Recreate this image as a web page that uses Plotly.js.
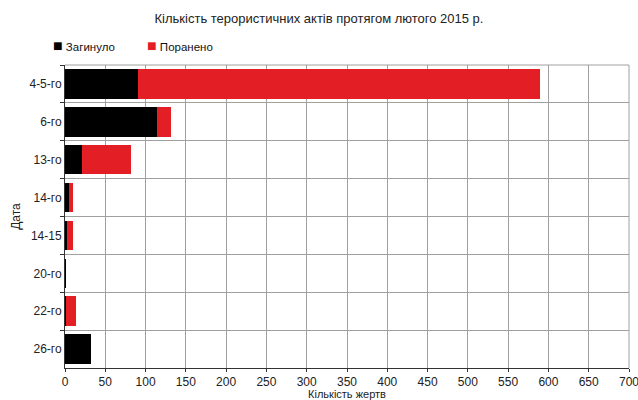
<!DOCTYPE html>
<html>
<head>
<meta charset="utf-8">
<script src="https://cdn.plot.ly/plotly-3.0.1.min.js"></script>
<style>html,body{margin:0;padding:0;background:#fff;}#chart{width:638px;height:400px;}</style>
</head>
<body>
<div id="chart"></div>
<script>
const categories = ['4-5-го', '6-го', '13-го', '14-го', '14-15', '20-го', '22-го', '26-го'];
const killed = [90, 114, 21, 5, 3, 1, 1, 32];
const wounded = [500, 18, 61, 5, 7, 0, 13, 0];
const seriesNames = ['Загинуло', 'Поранено'];
const seriesColors = ['#000000', '#e31e24'];
const xTicks = [0, 50, 100, 150, 200, 250, 300, 350, 400, 450, 500, 550, 600, 650, 700];

const fam = 'Liberation Sans, Arial, sans-serif';

const data = [
  {type: 'bar', orientation: 'h', name: seriesNames[0], y: categories, x: killed,
   marker: {color: seriesColors[0]}, hoverinfo: 'x+y'},
  {type: 'bar', orientation: 'h', name: seriesNames[1], y: categories, x: wounded,
   marker: {color: seriesColors[1]}, hoverinfo: 'x+y'}
];

const legendX = [-0.024, 0.141];
const annotations = seriesNames.map((n, i) => ({
  xref: 'paper', yref: 'paper', x: legendX[i], y: 1.066, xanchor: 'left', yanchor: 'middle',
  showarrow: false,
  text: '<span style="color:' + seriesColors[i] + ';font-size:16px">■</span> ' + n,
  font: {family: fam, size: 11.5, color: '#111'}
}));

const layout = {
  width: 638, height: 400,
  margin: {l: 65, r: 9, t: 65, b: 32},
  paper_bgcolor: '#ffffff', plot_bgcolor: '#ffffff',
  font: {family: fam, size: 12, color: '#222'},
  barmode: 'stack',
  bargap: 0.22,
  showlegend: false,
  title: {text: 'Кількість терористичних актів протягом лютого 2015 р.',
          font: {family: fam, size: 13, color: '#222'},
          x: 0.5, xanchor: 'center', y: 0.955, yanchor: 'middle'},
  annotations: annotations,
  xaxis: {range: [0, 700], tickvals: xTicks, ticktext: xTicks.map(String),
          showgrid: true, gridcolor: '#a0a0a0', gridwidth: 1,
          showline: true, linecolor: '#333', linewidth: 1,
          ticks: 'outside', ticklen: 3, tickcolor: '#333',
          zeroline: false, fixedrange: true, ticklabeloverflow: 'allow',
          automargin: false,
          tickfont: {family: fam, size: 12, color: '#222'},
          title: {text: 'Кількість жертв', standoff: 6,
                  font: {family: fam, size: 11, color: '#222'}}},
  yaxis: {type: 'category', autorange: 'reversed', tickson: 'boundaries',
          showgrid: true, gridcolor: '#a0a0a0', gridwidth: 1,
          showline: true, linecolor: '#333', linewidth: 1,
          ticks: 'outside', ticklen: 4, tickcolor: '#333',
          zeroline: false, fixedrange: true,
          tickfont: {family: fam, size: 12, color: '#222'},
          title: {text: 'Дата', standoff: 6,
                  font: {family: fam, size: 12, color: '#222'}}},
  shapes: [
    {type: 'line', xref: 'paper', yref: 'paper', x0: 0, x1: 1, y0: 1, y1: 1,
     line: {color: '#a0a0a0', width: 1}},
    {type: 'line', xref: 'paper', yref: 'paper', x0: 1, x1: 1, y0: 0, y1: 1,
     line: {color: '#a0a0a0', width: 1}}
  ]
};

Plotly.newPlot('chart', data, layout, {displayModeBar: false, staticPlot: true});
</script>
</body>
</html>
